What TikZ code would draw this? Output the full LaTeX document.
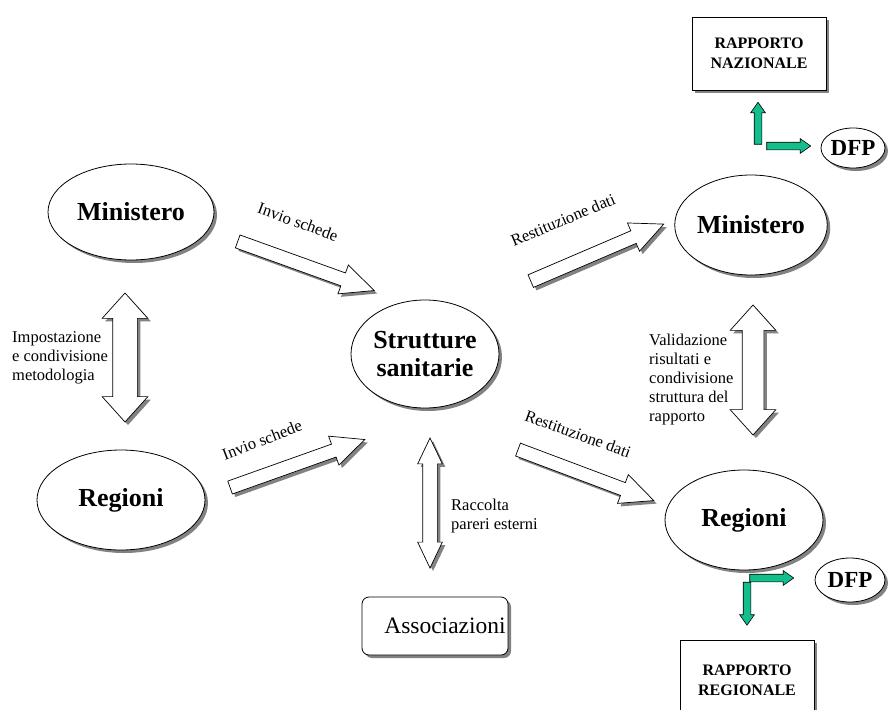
\documentclass[tikz,border=0pt]{standalone}
\usepackage{fontspec}
\setmainfont{Liberation Serif}
\usetikzlibrary{shapes.geometric,shapes.arrows,shadows}
\definecolor{arrgreen}{RGB}{20,190,140}
\definecolor{shgray}{RGB}{130,130,130}
\begin{document}
\begin{tikzpicture}[x=1pt,y=-1pt,
  sh/.style={drop shadow={shadow xshift=3pt,shadow yshift=-3pt,fill=shgray,opacity=1}},
  oval/.style={ellipse,draw,fill=white,line width=0.8pt,sh,align=center,inner sep=0pt,
    font=\fontsize{26}{28}\selectfont\bfseries},
  repbox/.style={rectangle,draw,fill=white,line width=0.8pt,sh,align=center,
    minimum width=134pt,minimum height=73pt,font=\fontsize{16}{20}\selectfont\bfseries},
  lbl/.style={align=left,inner sep=0pt,font=\fontsize{16.5}{19}\selectfont},
  bigarrow/.style={single arrow,draw,fill=white,line width=0.7pt,sh,inner xsep=0pt,
    inner ysep=6.5pt,single arrow head extend=8.5pt,single arrow tip angle=50,minimum height=#1},
  dblarrow/.style={double arrow,draw,fill=white,line width=0.7pt,sh,inner xsep=0pt},
  grarrow/.style={single arrow,draw,fill=arrgreen,line width=0.6pt,inner xsep=0pt,
    inner ysep=3.5pt,single arrow head extend=3.5pt,single arrow tip angle=70,minimum height=#1}
]
\useasboundingbox (0,0) rectangle (888,709);
\clip (0,0) rectangle (888,709);

% ellipses
\node[oval,minimum width=166pt,minimum height=96pt] (minL) at (131,212) {Ministero};
\node[oval,minimum width=168pt,minimum height=100pt] (regL) at (121,500) {Regioni};
\node[oval,minimum width=148pt,minimum height=108pt] (strut) at (425,354) {Strutture\\sanitarie};
\node[oval,minimum width=152pt,minimum height=100pt] (minR) at (751,225) {Ministero};
\node[oval,minimum width=158pt,minimum height=100pt] (regR) at (744,520) {Regioni};
\node[oval,minimum width=64pt,minimum height=40pt,font=\fontsize{23}{24}\selectfont\bfseries] (dfpT) at (853,148) {DFP};
\node[oval,minimum width=70pt,minimum height=44pt,font=\fontsize{23}{24}\selectfont\bfseries] (dfpB) at (850,580) {DFP};

% boxes
\node[repbox] (rapN) at (759,53.5) {RAPPORTO\\NAZIONALE};
\node[repbox,minimum height=80pt] (rapR) at (747,680) {RAPPORTO\\REGIONALE};
\node[rectangle,rounded corners=7pt,draw,fill=white,line width=0.8pt,sh,
  minimum width=146pt,minimum height=58pt,inner sep=0pt,
  font=\fontsize{23.5}{25}\selectfont] (assoc) at (435,626) {\hspace*{20pt}Associazioni};

% diagonal block arrows
\node[bigarrow=145pt,rotate=-19.8] (invT) at (299,263.5) {};
\node[bigarrow=144.7pt,rotate=23.2] (resT) at (590.5,255.5) {};
\node[bigarrow=143pt,rotate=19.6] (invB) at (290.5,466) {};
\node[bigarrow=145pt,rotate=-20.6] (resB) at (579,472.5) {};

% vertical double arrows
\node[dblarrow,rotate=90,inner ysep=12pt,double arrow head extend=10.5pt,
  double arrow tip angle=84,minimum height=129pt] (impo) at (125,357.5) {};
\node[dblarrow,rotate=90,inner ysep=10.5pt,double arrow head extend=12pt,
  double arrow tip angle=84,minimum height=130pt] (vali) at (753,370) {};
\node[dblarrow,rotate=90,inner ysep=7pt,double arrow head extend=5pt,
  double arrow tip angle=51,minimum height=130pt] (racc) at (430,503) {};

% green arrows
\node[grarrow=42pt,rotate=90] (gTv) at (758,126) {};
\node[grarrow=44pt] (gTh) at (786,146) {};
\node[grarrow=44pt] (gBh) at (769,578) {};
\node[grarrow=43pt,rotate=-90] (gBv) at (747,601) {};

% labels
\node[lbl,rotate=-20] (linvT) at (298,222) {Invio schede};
\node[lbl,rotate=23] (lresT) at (563,220) {Restituzione dati};
\node[lbl,rotate=21] (linvB) at (262,440) {Invio schede};
\node[lbl,rotate=-20] (lresB) at (578,434) {Restituzione dati};
\node[lbl,anchor=west] (limpo) at (12,358) {Impostazione\\e condivisione\\metodologia};
\node[lbl,anchor=west] (lvali) at (649,380) {Validazione\\risultati e\\condivisione\\struttura del\\rapporto};
\node[lbl,anchor=west] (lracc) at (451,516) {Raccolta\\pareri esterni};
\end{tikzpicture}
\end{document}
